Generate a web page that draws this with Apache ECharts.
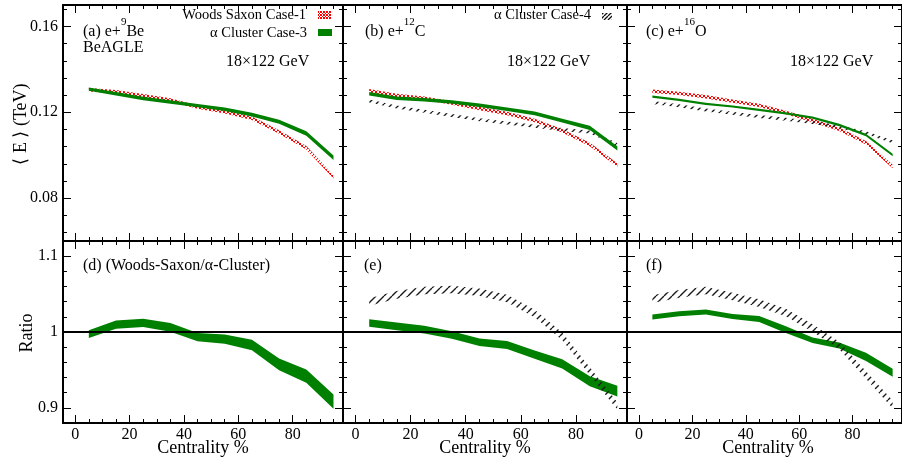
<!DOCTYPE html>
<html>
<head>
<meta charset="utf-8">
<script src="https://cdn.jsdelivr.net/npm/echarts@6/dist/echarts.min.js"></script>
<style>
  html, body { margin: 0; padding: 0; background: #fff; }
  #chart { width: 902px; height: 462px; }
</style>
</head>
<body>
<div id="chart"></div>
<script>
// centrality bins (%)
const cent = [5, 15, 25, 35, 45, 55, 65, 75, 85, 95];

// <E> (TeV), top row
const beWS = [0.1305, 0.1296, 0.1277, 0.1257, 0.1224, 0.1202, 0.1172, 0.1108, 0.1035, 0.0899];
const beWSErr = [0.0008, 0.0008, 0.0008, 0.0008, 0.0008, 0.0008, 0.0008, 0.0008, 0.0008, 0.0008];
const beC3 = [0.1308, 0.1286, 0.1264, 0.1248, 0.1231, 0.1214, 0.1189, 0.1156, 0.1101, 0.0988];
const beC3Err = [0.0008, 0.0008, 0.0008, 0.0008, 0.0008, 0.0008, 0.0009, 0.0009, 0.001, 0.0011];

const cWS = [0.1300, 0.1278, 0.1266, 0.1243, 0.1218, 0.1194, 0.1162, 0.1114, 0.1050, 0.0954];
const cWSErr = [0.0008, 0.0008, 0.0008, 0.0008, 0.0008, 0.0008, 0.0008, 0.0008, 0.0008, 0.0008];
const cC3 = [0.1286, 0.1265, 0.1258, 0.1248, 0.1233, 0.1214, 0.1195, 0.1161, 0.1127, 0.1032];
const cC3Err = [0.0008, 0.0008, 0.0008, 0.0008, 0.0008, 0.0008, 0.0009, 0.0009, 0.001, 0.001];
const cC4 = [0.1252, 0.1225, 0.1205, 0.1185, 0.1165, 0.1150, 0.1135, 0.1120, 0.1108, 0.1050];
const cC4Err = [0.0007, 0.0007, 0.0007, 0.0007, 0.0007, 0.0007, 0.0007, 0.0007, 0.0007, 0.0007];

const oWS = [0.1298, 0.1288, 0.1272, 0.1252, 0.1232, 0.1199, 0.1162, 0.1121, 0.1058, 0.0947];
const oWSErr = [0.0008, 0.0008, 0.0008, 0.0008, 0.0008, 0.0008, 0.0008, 0.0008, 0.0008, 0.0008];
const oC3 = [0.1273, 0.1258, 0.1239, 0.1227, 0.1211, 0.1195, 0.1175, 0.1141, 0.1094, 0.1001];
const oC3Err = [0.0005, 0.0005, 0.0005, 0.0005, 0.0005, 0.0005, 0.0005, 0.0006, 0.0006, 0.0006];
const oC4 = [0.1245, 0.1230, 0.1211, 0.1195, 0.1180, 0.1167, 0.1152, 0.1133, 0.1105, 0.1063];
const oC4Err = [0.0007, 0.0007, 0.0007, 0.0007, 0.0007, 0.0007, 0.0007, 0.0007, 0.0007, 0.0007];

// ratios, bottom row
const dRatio = [0.9972, 1.0098, 1.012, 1.0061, 0.9932, 0.9906, 0.9829, 0.9573, 0.9418, 0.9083];
const dRatioErr = [0.005, 0.0055, 0.0055, 0.0057, 0.0055, 0.006, 0.007, 0.0077, 0.0088, 0.0094];
const eRatio = [1.0118, 1.0074, 1.0031, 0.9961, 0.9864, 0.9829, 0.9702, 0.958, 0.935, 0.922];
const eRatioErr = [0.005, 0.005, 0.005, 0.005, 0.005, 0.0052, 0.0055, 0.006, 0.0065, 0.007];
const eRatio4 = [1.0396, 1.049, 1.0547, 1.056, 1.0525, 1.0442, 1.0245, 0.9943, 0.9484, 0.9024];
const eRatio4Err = [0.005, 0.005, 0.005, 0.005, 0.005, 0.005, 0.005, 0.005, 0.005, 0.005];
const fRatio = [1.0197, 1.0241, 1.0263, 1.0206, 1.0171, 1.0031, 0.9891, 0.9821, 0.9672, 0.9462];
const fRatioErr = [0.0033, 0.0033, 0.0033, 0.0033, 0.004, 0.0044, 0.0037, 0.004, 0.0055, 0.0053];
const fRatio4 = [1.0433, 1.0503, 1.0547, 1.0468, 1.0381, 1.0258, 1.0053, 0.9821, 0.9432, 0.9046];
const fRatio4Err = [0.005, 0.005, 0.005, 0.005, 0.005, 0.005, 0.005, 0.005, 0.005, 0.005];

// ticks
const xMajor = [0, 20, 40, 60, 80];
const xMinor = [5, 10, 15, 25, 30, 35, 45, 50, 55, 65, 70, 75, 85, 90, 95];
const eMajor = [0.08, 0.12, 0.16];
const eMinor = [0.064, 0.072, 0.088, 0.096, 0.104, 0.112, 0.128, 0.136, 0.144, 0.152, 0.168];
const rMajor = [0.9, 1, 1.1];
const rMinor = [0.92, 0.94, 0.96, 0.98, 1.02, 1.04, 1.06, 1.08];

const FONT = 'Liberation Serif';
const GREEN = '#008000';

function pattern(color, step, width, cross) {
  const c = document.createElement('canvas');
  c.width = step; c.height = step;
  const ctx = c.getContext('2d');
  ctx.strokeStyle = color;
  ctx.lineWidth = width;
  ctx.beginPath();
  for (let k = -1; k <= 1; k++) {
    ctx.moveTo(k * step, step); ctx.lineTo(k * step + step, 0);
    if (cross) { ctx.moveTo(k * step, 0); ctx.lineTo(k * step + step, step); }
  }
  ctx.stroke();
  return { image: c, repeat: 'repeat' };
}
const redFill = pattern('#ff0000', 4, 1, true);
const blackFill = pattern('#1a1a1a', 8, 1.4, false);
const redBox = pattern('#ff0000', 3, 1, true);
const blackBox = pattern('#111', 4, 1.3, false);

var dom = document.getElementById('chart');
var myChart = echarts.init(dom, null, { renderer: 'canvas' });

const xRange = [-4.5, 98.5];
const panels = [
  { left: 63, top: 5, width: 280, height: 236, y: [0.06, 0.17], maj: eMajor, min: eMinor, yLab: true, xLab: false },
  { left: 343, top: 5, width: 284, height: 236, y: [0.06, 0.17], maj: eMajor, min: eMinor, yLab: false, xLab: false },
  { left: 627, top: 5, width: 282, height: 236, y: [0.06, 0.17], maj: eMajor, min: eMinor, yLab: false, xLab: false },
  { left: 63, top: 241, width: 280, height: 182, y: [0.88, 1.12], maj: rMajor, min: rMinor, yLab: true, xLab: true },
  { left: 343, top: 241, width: 284, height: 182, y: [0.88, 1.12], maj: rMajor, min: rMinor, yLab: false, xLab: true },
  { left: 627, top: 241, width: 282, height: 182, y: [0.88, 1.12], maj: rMajor, min: rMinor, yLab: false, xLab: true }
];

// per side: a main axis (line, long ticks, labels) and a minor-tick axis
function makeAxes(gi, sides, range, major, minor, showLabels, lab) {
  const out = [];
  sides.forEach((side, s) => {
    [[major, 8], [minor, 4]].forEach(([vals, len], k) => {
      out.push({
        type: 'value', gridIndex: gi, position: side,
        min: range[0], max: range[1],
        axisLine: { show: k === 0, onZero: false, lineStyle: { color: '#000', width: 2 } },
        axisTick: { show: true, inside: true, length: len, customValues: vals,
                    lineStyle: { color: '#000', width: 1 } },
        axisLabel: Object.assign({ show: showLabels && s === 0 && k === 0, customValues: major,
                     color: '#000', fontFamily: FONT, fontSize: 16 }, lab),
        splitLine: { show: false },
        silent: true
      });
    });
  });
  return out;
}

const xAxes = [], yAxes = [];
panels.forEach((p, gi) => {
  xAxes.push(...makeAxes(gi, ['bottom', 'top'], xRange, xMajor, xMinor, p.xLab, { margin: 4 }));
  yAxes.push(...makeAxes(gi, ['left', 'right'], p.y, p.maj, p.min, p.yLab, { margin: 5 }));
});

// filled band between value-err and value+err, drawn as one polygon through the axes
function band(gi, vals, errs, fill) {
  const pts = cent.map((c, i) => [c, vals[i] - errs[i], vals[i] + errs[i]]);
  return {
    type: 'custom', xAxisIndex: gi * 4, yAxisIndex: gi * 4, data: pts,
    encode: { x: 0, y: [1, 2] }, silent: true, clip: true, animation: false,
    renderItem: function (params, api) {
      if (params.dataIndex !== 0) return { type: 'group', children: [] };
      const upper = pts.map(p => api.coord([p[0], p[2]]));
      const lower = pts.map(p => api.coord([p[0], p[1]])).reverse();
      return { type: 'polygon', shape: { points: upper.concat(lower) }, style: { fill: fill, stroke: null } };
    }
  };
}
function unityLine(gi) {
  return {
    type: 'line', xAxisIndex: gi * 4, yAxisIndex: gi * 4, data: [], silent: true,
    markLine: { silent: true, symbol: 'none', label: { show: false }, animation: false,
                lineStyle: { color: '#000', width: 1.8, type: 'solid' }, data: [{ yAxis: 1 }] }
  };
}

const series = [
  band(0, beWS, beWSErr, redFill),
  band(0, beC3, beC3Err, GREEN),
  band(1, cWS, cWSErr, redFill),
  band(1, cC4, cC4Err, blackFill),
  band(1, cC3, cC3Err, GREEN),
  band(2, oWS, oWSErr, redFill),
  band(2, oC4, oC4Err, blackFill),
  band(2, oC3, oC3Err, GREEN),
  unityLine(3), unityLine(4), unityLine(5),
  band(3, dRatio, dRatioErr, GREEN),
  band(4, eRatio, eRatioErr, GREEN),
  band(4, eRatio4, eRatio4Err, blackFill),
  band(5, fRatio, fRatioErr, GREEN),
  band(5, fRatio4, fRatio4Err, blackFill)
];

const mctx = document.createElement('canvas').getContext('2d');
function textWidth(text, size) {
  mctx.font = size + "px '" + FONT + "'";
  return mctx.measureText(text).width;
}
function txt(x, y, text, size, align, more) {
  return Object.assign({
    type: 'text', x: x, y: y, silent: true, z: 100,
    style: { text: text, fill: '#000', font: size + "px '" + FONT + "'",
             textAlign: align || 'left', textVerticalAlign: 'middle' }
  }, more || {});
}
// text with a raised superscript piece: [main, sup, main]
function supTxt(x, y, a, sup, b) {
  const w1 = textWidth(a, 16), w2 = textWidth(sup, 11);
  return [txt(x, y, a, 16), txt(x + w1, y - 10, sup, 11), txt(x + w1 + w2, y, b, 16)];
}

const graphics = [
  txt(21, 124, '⟨ E ⟩ (TeV)', 18, 'center', { rotation: Math.PI / 2 }),
  txt(27, 333, 'Ratio', 18, 'center', { rotation: Math.PI / 2 }),
  txt(203, 448, 'Centrality %', 18, 'center'),
  txt(485, 448, 'Centrality %', 18, 'center'),
  txt(768, 448, 'Centrality %', 18, 'center'),
  ...supTxt(83, 32, '(a) e+', '9', 'Be'),
  txt(83, 48, 'BeAGLE', 16),
  txt(226, 62, '18×122 GeV', 16),
  txt(306, 15, 'Woods Saxon Case-1', 14.5, 'right'),
  txt(307, 33, 'α Cluster Case-3', 14.5, 'right'),
  ...supTxt(365, 32, '(b) e+', '12', 'C'),
  txt(507, 62, '18×122 GeV', 16),
  txt(591, 15, 'α Cluster Case-4', 14.5, 'right'),
  ...supTxt(646, 32, '(c) e+', '16', 'O'),
  txt(790, 62, '18×122 GeV', 16),
  txt(83, 266, '(d) (Woods-Saxon/α-Cluster)', 16),
  txt(364, 266, '(e)', 16),
  txt(646, 266, '(f)', 16),
  { type: 'rect', shape: { x: 318, y: 11, width: 13, height: 8 }, style: { fill: redBox }, silent: true },
  { type: 'rect', shape: { x: 318, y: 29, width: 14, height: 7 }, style: { fill: GREEN }, silent: true },
  { type: 'rect', shape: { x: 602, y: 13, width: 10, height: 7 }, style: { fill: blackBox }, silent: true }
];

var option = {
  backgroundColor: '#fff',
  animation: false,
  grid: panels.map(p => ({ left: p.left, top: p.top, width: p.width, height: p.height, containLabel: false })),
  xAxis: xAxes,
  yAxis: yAxes,
  series: series,
  graphic: { elements: graphics }
};

if (option && typeof option === 'object') {
  myChart.setOption(option);
}
</script>
</body>
</html>
